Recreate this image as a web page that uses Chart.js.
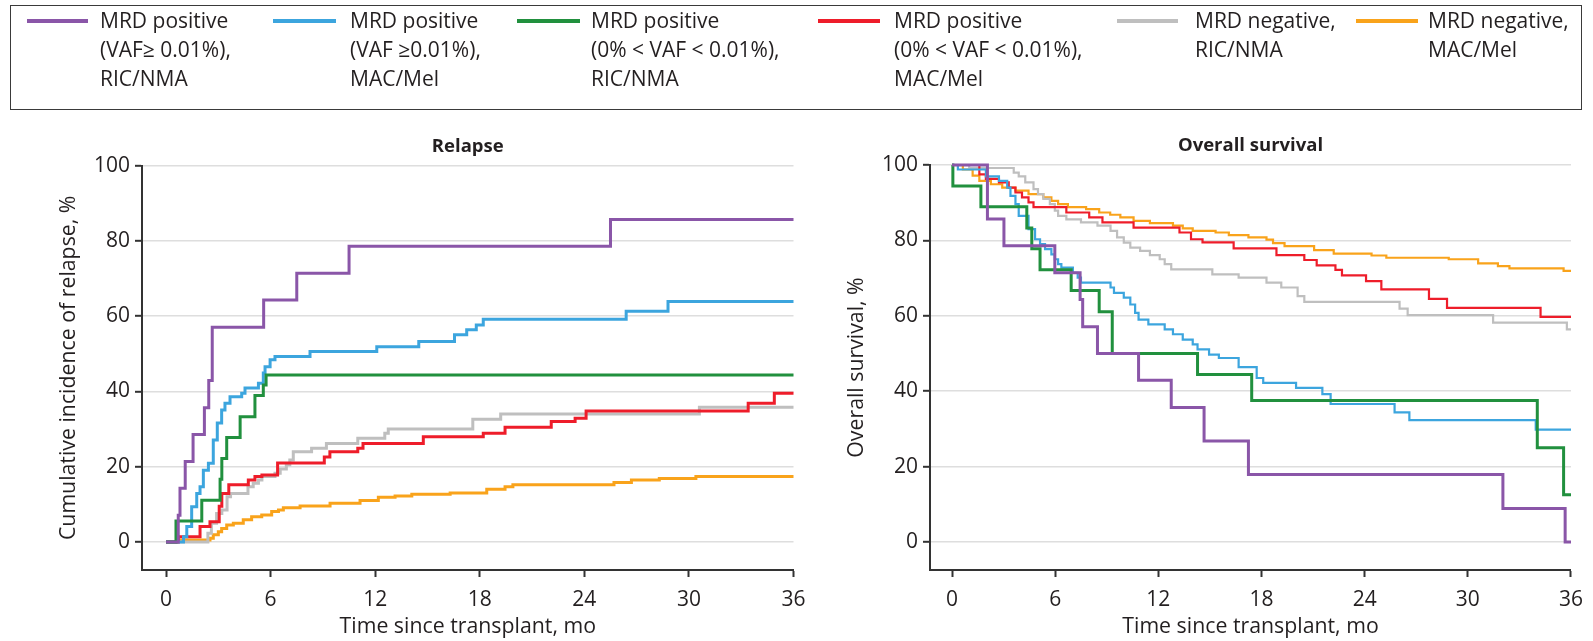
<!DOCTYPE html>
<html>
<head>
<meta charset="utf-8">
<script src="https://cdn.jsdelivr.net/npm/chart.js@4.4.0/dist/chart.umd.min.js"></script>
<style>
  html, body { margin: 0; padding: 0; background: #fff; }
  body { width: 1593px; height: 641px; position: relative; overflow: hidden; font-family: "Open Sans", sans-serif; color: #231f20; }
  #legendBox { position: absolute; left: 10px; top: 5px; width: 1572px; height: 105px; border: 1.5px solid #3a3a3a; box-sizing: border-box; }
  .swatch { position: absolute; height: 4px; top: 19px; }
  .ltext { position: absolute; top: 6px; font-size: 21px; line-height: 29px; white-space: nowrap; color: #231f20; }
  canvas { position: absolute; left: 0; top: 0; }
</style>
</head>
<body>
<div id="legendBox"></div>
<canvas id="relapseChart" width="1593" height="641"></canvas>
<canvas id="survivalChart" width="1593" height="641"></canvas>
<script>
// ---- axes ----
const xTickValues = [0, 6, 12, 18, 24, 30, 36];
const yTickValues = [0, 20, 40, 60, 80, 100];

// ---- series names (legend) ----
const seriesNames = [
  ['MRD positive', '(VAF\u2265 0.01%),', 'RIC/NMA'],
  ['MRD positive', '(VAF \u22650.01%),', 'MAC/Mel'],
  ['MRD positive', '(0% < VAF < 0.01%),', 'RIC/NMA'],
  ['MRD positive', '(0% < VAF < 0.01%),', 'MAC/Mel'],
  ['MRD negative,', 'RIC/NMA'],
  ['MRD negative,', 'MAC/Mel']
];
const seriesColors = ['#8a56a8', '#3ca5de', '#21903e', '#ee1d2a', '#bfbfbf', '#f9a31b'];

// ---- cumulative incidence of relapse (time in months, value in %) ----
const relapsePurpleT = [0, 0.7, 0.8, 1.1, 1.55, 2.2, 2.45, 2.65, 5.6, 7.5, 10.5, 25.5, 36];
const relapsePurpleV = [0, 7.1, 14.3, 21.4, 28.6, 35.7, 42.9, 57.1, 64.3, 71.4, 78.6, 85.7, 85.7];

const relapseBlueT = [0, 1.0, 1.19, 1.47, 1.76, 1.95, 2.14, 2.43, 2.71, 2.94, 3.19, 3.38, 3.67, 4.34, 4.53, 5.3, 5.58, 5.68, 5.97, 6.25, 8.26, 12.09, 14.5, 16.55, 17.25, 17.8, 18.2, 26.4, 28.8, 36];
const relapseBlueV = [0, 1.4, 4.1, 9.4, 12.9, 14.7, 19.1, 20.9, 27.1, 31.6, 35.1, 36.9, 38.6, 39.5, 40.9, 42.2, 44.9, 46.6, 48.4, 49.3, 50.6, 51.9, 53.3, 55.1, 56.4, 57.7, 59.2, 61.3, 63.9, 63.9];

const relapseGreenT = [0, 0.57, 2.05, 3.1, 3.2, 3.48, 4.25, 5.1, 5.58, 5.74, 36];
const relapseGreenV = [0, 5.6, 11.1, 16.7, 22.2, 27.8, 33.3, 38.9, 41.7, 44.4, 44.4];

const relapseRedT = [0, 0.7, 1.95, 2.52, 3.05, 3.2, 3.6, 4.72, 5.1, 5.5, 6.4, 9.08, 9.4, 11.0, 11.3, 14.76, 18.2, 19.45, 22.1, 23.47, 24.1, 33.4, 34.9, 36];
const relapseRedV = [0, 1.4, 4.1, 5.4, 9.5, 12.9, 15.2, 16.5, 17.4, 17.8, 21.0, 22.6, 24.0, 24.9, 26.2, 28.0, 28.9, 30.5, 32.0, 32.9, 34.8, 36.9, 39.5, 39.5];

const relapseGrayT = [0, 2.4, 2.6, 2.9, 3.2, 3.5, 3.7, 4.7, 5.0, 5.3, 5.5, 6.25, 6.55, 6.9, 7.1, 7.3, 8.35, 9.2, 11.0, 12.55, 12.75, 17.6, 19.2, 30.6, 36];
const relapseGrayV = [0, 2.3, 5.0, 7.6, 8.5, 12.0, 12.9, 14.7, 15.6, 16.5, 17.4, 18.3, 19.4, 20.5, 21.8, 24.0, 24.9, 26.2, 27.6, 28.9, 30.0, 32.6, 34.0, 35.8, 35.8];

const relapseOrangeT = [0, 0.6, 2.52, 2.71, 3.0, 3.19, 3.48, 3.86, 4.43, 4.91, 5.49, 6.06, 6.45, 6.73, 7.69, 9.41, 11.13, 12.18, 13.14, 14.1, 16.3, 18.4, 19.45, 19.9, 25.7, 26.7, 28.3, 30.4, 36];
const relapseOrangeV = [0, 0.5, 1.0, 1.9, 2.7, 3.6, 4.5, 5.0, 5.9, 6.7, 7.2, 8.1, 8.5, 9.1, 9.6, 10.3, 11.0, 11.9, 12.2, 12.7, 13.0, 14.0, 14.7, 15.2, 15.8, 16.5, 16.9, 17.4, 17.4];

// ---- overall survival (time in months, value in %) ----
const survPurpleT = [0, 2.06, 3.02, 5.98, 7.45, 7.6, 8.46, 10.85, 12.75, 14.66, 17.24, 32.04, 35.66, 36];
const survPurpleV = [100, 85.7, 78.6, 71.4, 64.3, 57.1, 50.0, 42.9, 35.7, 26.8, 17.9, 8.9, 0, 0];

const survBlueT = [0, 0.34, 1.97, 2.73, 3.21, 3.4, 3.69, 3.88, 4.45, 4.83, 5.12, 5.41, 5.78, 5.98, 6.17, 6.36, 7.03, 7.31, 7.5, 9.22, 9.42, 9.99, 10.37, 10.65, 10.85, 11.42, 12.37, 12.85, 13.42, 14.0, 14.28, 14.95, 15.52, 16.67, 17.72, 18.1, 20.01, 21.54, 22.02, 25.74, 26.6, 33.95, 36];
const survBlueV = [100, 98.8, 97.0, 95.8, 94.0, 91.8, 89.6, 86.5, 83.0, 80.3, 79.0, 77.7, 76.3, 75.0, 73.7, 72.8, 71.4, 70.1, 68.8, 67.5, 66.1, 64.8, 63.0, 60.8, 59.0, 57.7, 56.4, 55.1, 53.7, 52.4, 51.1, 49.7, 48.8, 46.4, 43.5, 42.2, 40.9, 39.2, 36.6, 34.4, 32.3, 29.8, 29.8];

const survGreenT = [0, 0.05, 1.68, 4.35, 4.64, 5.12, 6.93, 8.56, 9.32, 14.28, 17.43, 34.04, 35.57, 36];
const survGreenV = [100, 94.4, 88.9, 83.3, 77.8, 72.2, 66.7, 61.1, 50.0, 44.4, 37.5, 25.0, 12.5, 12.5];

const survRedT = [0, 1.59, 1.97, 2.73, 3.3, 3.69, 4.07, 4.45, 4.74, 6.65, 7.98, 8.75, 10.56, 13.23, 13.9, 14.57, 16.38, 18.87, 20.49, 21.21, 22.3, 22.68, 24.08, 24.97, 27.74, 28.79, 34.23, 36];
const survRedV = [100, 97.5, 96.3, 95.4, 94.0, 92.7, 91.4, 90.1, 88.8, 87.4, 86.1, 84.8, 83.4, 82.1, 80.3, 79.5, 77.9, 76.1, 74.8, 73.4, 72.2, 70.7, 69.2, 67.0, 64.5, 62.1, 59.7, 59.7];

const survGrayT = [0, 1.0, 3.59, 3.88, 4.26, 4.74, 5.0, 5.31, 5.69, 5.98, 6.17, 6.65, 7.5, 8.46, 9.22, 9.6, 9.99, 10.37, 10.94, 11.51, 12.08, 12.37, 12.75, 15.14, 16.67, 18.29, 19.15, 20.1, 20.49, 26.03, 26.5, 31.47, 35.76, 36];
const survGrayV = [100, 99.2, 98.0, 97.0, 95.4, 93.6, 92.3, 91.0, 89.6, 87.9, 86.5, 85.6, 84.8, 83.9, 82.5, 80.8, 79.4, 78.1, 77.2, 76.1, 75.0, 73.7, 72.3, 71.0, 70.1, 68.8, 67.5, 65.2, 63.7, 61.9, 60.2, 58.2, 56.4, 56.4];

const survOrangeT = [0, 0.63, 1.2, 1.59, 2.26, 2.92, 3.69, 4.45, 5.31, 5.78, 6.17, 6.74, 7.8, 8.56, 9.2, 9.79, 10.56, 11.51, 12.85, 13.42, 14.0, 15.33, 16.1, 17.24, 18.29, 18.67, 19.34, 21.06, 22.2, 24.4, 25.26, 28.89, 30.6, 31.75, 32.42, 35.57, 36];
const survOrangeV = [100, 98.8, 97.2, 95.8, 94.9, 94.0, 93.2, 92.3, 91.4, 90.5, 89.6, 88.8, 88.3, 87.4, 86.8, 86.1, 85.2, 84.6, 83.9, 83.2, 82.5, 82.1, 81.4, 80.8, 80.2, 79.3, 78.5, 77.4, 76.5, 76.0, 75.4, 75.0, 73.9, 73.2, 72.6, 71.9, 71.9];

// ---- legend ----
const swatchSpans = [[27, 88], [273, 336], [517, 580], [818, 880], [1117, 1178], [1356, 1418]];
const textStarts = [100, 350, 591, 894, 1195, 1428];
const legendHost = document.body;
seriesNames.forEach((lines, i) => {
  const sw = document.createElement('div');
  sw.className = 'swatch';
  sw.style.left = swatchSpans[i][0] + 'px';
  sw.style.width = (swatchSpans[i][1] - swatchSpans[i][0]) + 'px';
  sw.style.background = seriesColors[i];
  legendHost.appendChild(sw);
  const tx = document.createElement('div');
  tx.className = 'ltext';
  tx.style.left = textStarts[i] + 'px';
  tx.innerHTML = lines.map(s => s.replace(/&/g, '&amp;').replace(/</g, '&lt;')).join('<br>');
  legendHost.appendChild(tx);
});

// ---- charts ----
const FONT = '"Open Sans", sans-serif';
const INK = '#231f20';

const panelTitle = {
  id: 'panelTitle',
  afterDraw(chart, args, opts) {
    const { ctx, chartArea } = chart;
    ctx.save();
    ctx.font = 'bold 18.5px ' + FONT;
    ctx.fillStyle = INK;
    ctx.textAlign = 'center';
    ctx.textBaseline = 'middle';
    ctx.fillText(opts.text, (chartArea.left + chartArea.right) / 2, chartArea.top - 19);
    ctx.restore();
  }
};

function toPoints(t, v) { return t.map((x, i) => ({ x: x, y: v[i] })); }

function stepSet(t, v, color, width) {
  return {
    data: toPoints(t, v),
    borderColor: color,
    borderWidth: width,
    stepped: 'before',
    pointRadius: 0,
    fill: false,
    clip: false,
    borderCapStyle: 'butt',
    borderJoinStyle: 'miter'
  };
}

function panel(canvasId, opts) {
  return new Chart(document.getElementById(canvasId), {
    type: 'line',
    data: { datasets: opts.datasets },
    options: {
      responsive: false,
      animation: false,
      events: [],
      layout: { padding: { left: opts.padLeft, right: opts.padRight, top: opts.padTop, bottom: 0 } },
      plugins: {
        legend: { display: false },
        tooltip: { enabled: false },
        panelTitle: { text: opts.title }
      },
      scales: {
        x: {
          type: 'linear',
          min: opts.xMin,
          max: 36,
          afterBuildTicks: s => { s.ticks = xTickValues.map(v => ({ value: v })); },
          afterFit: s => { s.height = 71; },
          grid: { display: true, drawOnChartArea: false, drawTicks: true, tickLength: 7, tickColor: '#333', tickWidth: 2 },
          border: { display: true, color: '#333', width: 2 },
          ticks: { font: { family: FONT, size: 21 }, color: INK, padding: 10, maxRotation: 0, autoSkip: false },
          title: { display: true, text: 'Time since transplant, mo', font: { family: FONT, size: 21.3 }, color: INK, padding: { top: 0, bottom: 1 } }
        },
        y: {
          type: 'linear',
          min: opts.yMin,
          max: 100,
          afterBuildTicks: s => { s.ticks = yTickValues.map(v => ({ value: v })); },
          afterFit: s => { s.width = 142; },
          grid: { display: true, drawOnChartArea: true, color: '#dedede', lineWidth: 1.6, drawTicks: true, tickLength: 7, tickColor: '#333', tickWidth: 2 },
          border: { display: true, color: '#333', width: 2 },
          ticks: { font: { family: FONT, size: 21 }, color: INK, padding: 5 },
          title: { display: true, text: opts.yTitle, font: { family: FONT, size: 21.3 }, color: INK, padding: { top: 56, bottom: 0 } }
        }
      }
    },
    plugins: [panelTitle]
  });
}

panel('relapseChart', {
  title: 'Relapse',
  yTitle: 'Cumulative incidence of relapse, %',
  padLeft: 0, padRight: 1593 - 793.5, padTop: 165.7,
  xMin: -1.38, yMin: -7.44,
  datasets: [
    stepSet(relapsePurpleT, relapsePurpleV, seriesColors[0], 3),
    stepSet(relapseGreenT, relapseGreenV, seriesColors[2], 3),
    stepSet(relapseBlueT, relapseBlueV, seriesColors[1], 3),
    stepSet(relapseRedT, relapseRedV, seriesColors[3], 3),
    stepSet(relapseGrayT, relapseGrayV, seriesColors[4], 3),
    stepSet(relapseOrangeT, relapseOrangeV, seriesColors[5], 3)
  ]
});

panel('survivalChart', {
  title: 'Overall survival',
  yTitle: 'Overall survival, %',
  padLeft: 930 - 142, padRight: 1593 - 1580.7, padTop: 165,
  xMin: -1.28, yMin: -7.43,
  datasets: [
    stepSet(survPurpleT, survPurpleV, seriesColors[0], 3),
    stepSet(survGreenT, survGreenV, seriesColors[2], 3),
    stepSet(survBlueT, survBlueV, seriesColors[1], 2.2),
    stepSet(survRedT, survRedV, seriesColors[3], 2.2),
    stepSet(survGrayT, survGrayV, seriesColors[4], 2.2),
    stepSet(survOrangeT, survOrangeV, seriesColors[5], 2.2)
  ]
});
</script>
</body>
</html>
